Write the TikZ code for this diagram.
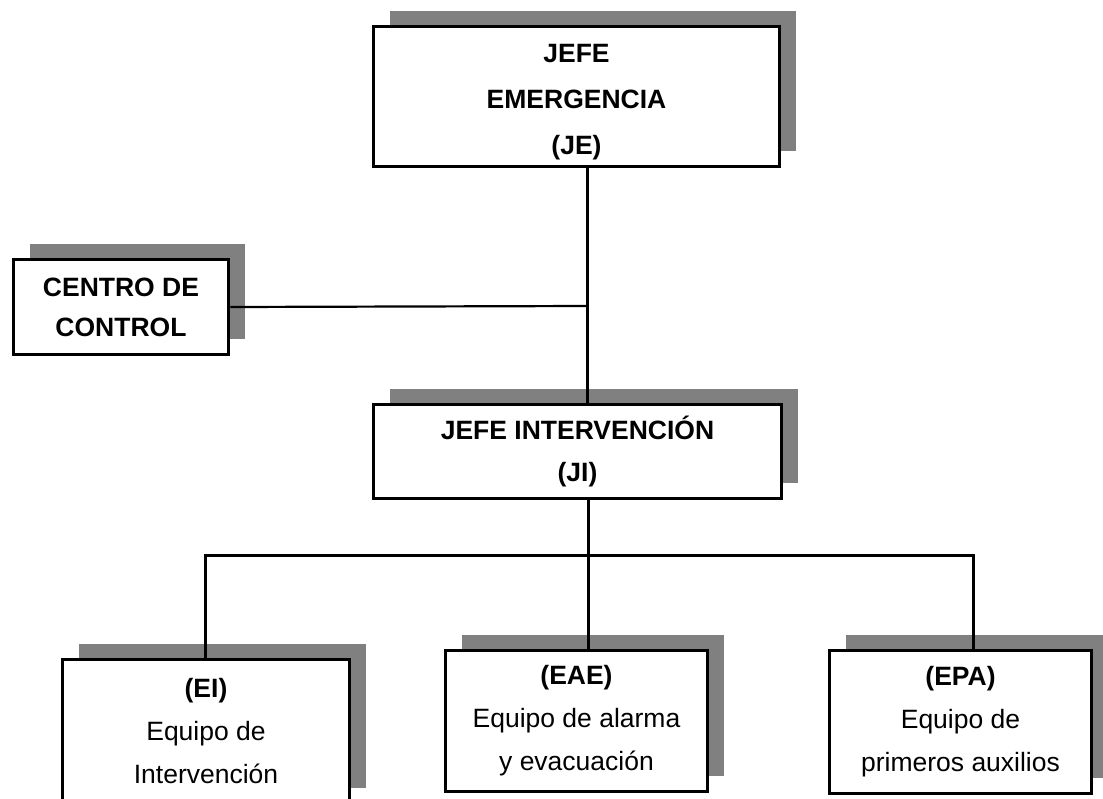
\documentclass[tikz,border=0pt]{standalone}
\usepackage{fontspec}
\setmainfont{Liberation Sans}
\usetikzlibrary{positioning,shadows}
\definecolor{shadowgray}{HTML}{808080}

\begin{document}
\begin{tikzpicture}[x=1pt,y=-1pt,
    box/.style={draw, line width=3.5pt, fill=white, align=center, inner sep=0pt,
      drop shadow={shadow xshift=16pt, shadow yshift=16pt, fill=shadowgray, opacity=1}},
    link/.style={line width=3pt}]
    \useasboundingbox (0,0) rectangle (1103,798);

    % Jefes
    \node[box, minimum width=406pt, minimum height=140pt,
      font=\bfseries\fontsize{26.5pt}{46pt}\selectfont] (je) at (576.5,96.5) {\rule{0pt}{30pt}JEFE\\EMERGENCIA\\(JE)};
    \node[box, minimum width=215pt, minimum height=95pt,
      font=\bfseries\fontsize{26.5pt}{40pt}\selectfont] (cc) at (121,307) {CENTRO DE\\CONTROL};
    \node[box, minimum width=408pt, minimum height=94pt,
      font=\bfseries\fontsize{26.5pt}{42pt}\selectfont] (ji) at (577.5,451.5) {JEFE INTERVENCIÓN\\(JI)};

    % Equipos
    \node[box, minimum width=287pt, minimum height=144pt,
      font=\fontsize{26.5pt}{43pt}\selectfont] (ei) at (206,731.5) {\textbf{(EI)}\\Equipo de\\Intervención};
    \node[box, minimum width=262pt, minimum height=141pt,
      font=\fontsize{26.5pt}{43pt}\selectfont] (eae) at (576.5,721) {\textbf{(EAE)}\\Equipo de alarma\\y evacuación};
    \node[box, minimum width=262pt, minimum height=143pt,
      font=\fontsize{26.5pt}{43pt}\selectfont] (epa) at (960.5,722) {\textbf{(EPA)}\\Equipo de\\primeros auxilios};

    % Lineas
    \coordinate (trunk) at (587,306);
    \coordinate (bus) at (588,555);
    \coordinate (busL) at (205,555);
    \coordinate (busR) at (973,555);
    \draw[link] (trunk |- je.south) -- (trunk |- ji.north);
    \draw[link, line width=2.2pt] (cc.east) -- (trunk);
    \draw[link] (bus |- ji.south) -- (bus |- eae.north);
    \draw[link] (busL |- ei.north) -- (busL) -- (busR) -- (busR |- epa.north);

\end{tikzpicture}
\end{document}
